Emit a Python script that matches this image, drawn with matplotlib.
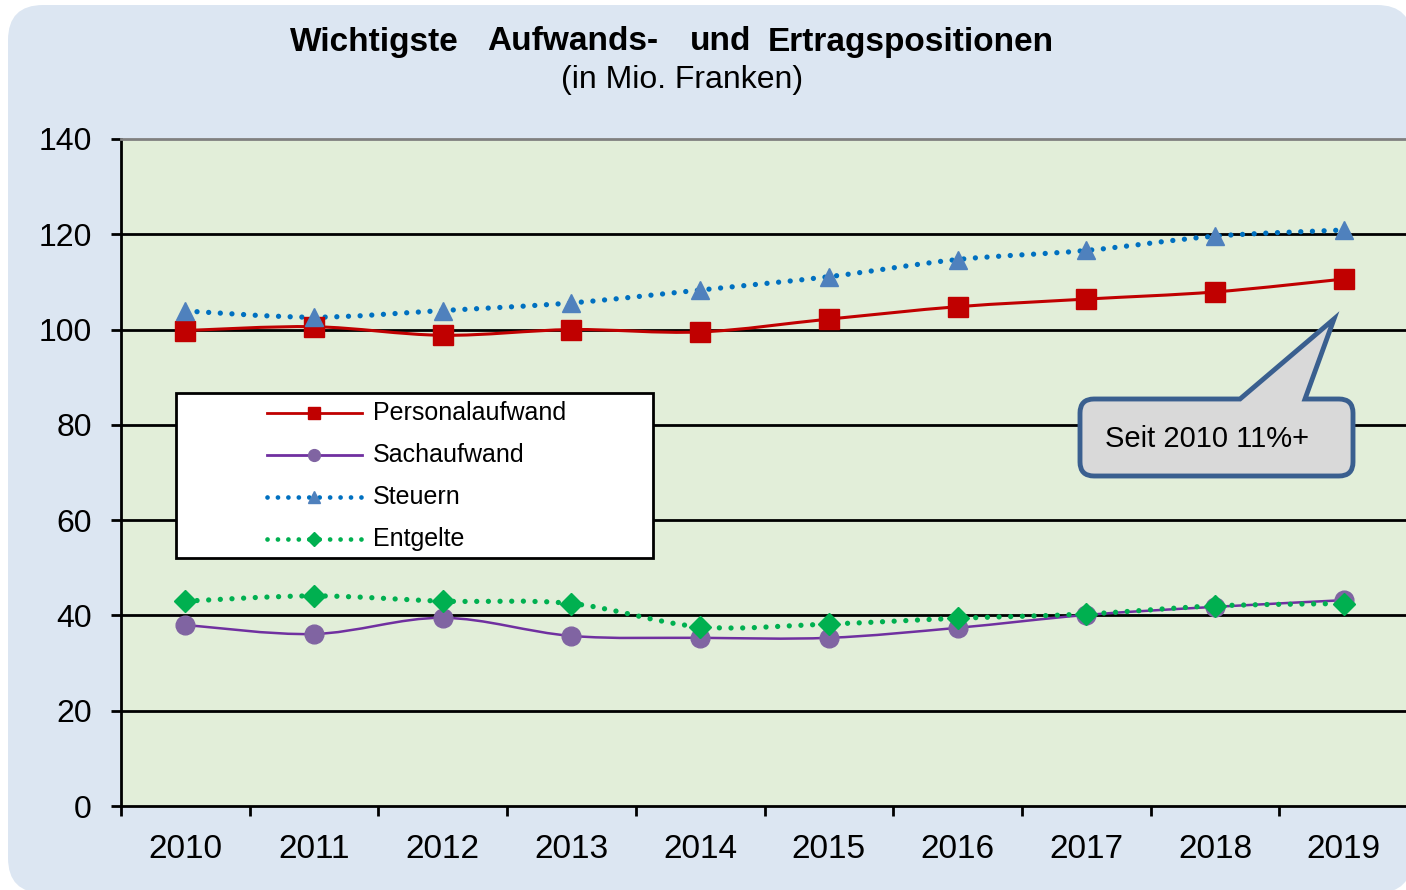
"""
Wichtigste Aufwands- und Ertragspositionen 2010-2019 (in Mio. Franken)
Line chart with callout, Excel-like styling
"""
import numpy as np
import matplotlib
matplotlib.use('Agg')
import matplotlib.pyplot as plt
from matplotlib.patches import FancyBboxPatch, PathPatch, Rectangle
from matplotlib.lines import Line2D
from matplotlib.path import Path

plt.rcParams['font.family'] = ['Liberation Sans', 'DejaVu Sans']

# --- data -----------------------------------------------------------------
years = ['2010', '2011', '2012', '2013', '2014', '2015', '2016', '2017', '2018', '2019']
personal = [99.8, 100.6, 98.8, 100.0, 99.5, 102.2, 104.8, 106.4, 107.9, 110.6]
sach = [38.0, 36.1, 39.5, 35.7, 35.3, 35.3, 37.4, 40.1, 41.8, 43.2]
steuern = [103.9, 102.6, 104.0, 105.6, 108.3, 111.1, 114.7, 116.6, 119.6, 120.9]
entgelte = [43.0, 44.1, 43.0, 42.5, 37.6, 38.2, 39.4, 40.3, 42.0, 42.5]
title_words = ['Wichtigste', 'Aufwands-', 'und', 'Ertragspositionen']
callout_text = 'Seit 2010 11%+'

W, H = 1406, 890
fig = plt.figure(figsize=(W / 100, H / 100), dpi=100)
fig.patch.set_facecolor('white')


def fx(x):
    return x / W


def fy(y):
    return 1 - y / H


# outer rounded panel
panel = FancyBboxPatch((fx(8), fy(893)), fx(1412 - 8), (893 - 5) / H,
                       boxstyle='round,pad=0,rounding_size=0.025',
                       transform=fig.transFigure, facecolor='#DCE6F2',
                       edgecolor='none', mutation_aspect=W / H, zorder=-5)
fig.patches.append(panel)

# title words placed individually (the original is widely letter-spaced)
for word, xpos in zip(title_words, [290, 487, 690, 768]):
    fig.text(fx(xpos), fy(42), word, ha='left', va='center', fontsize=24,
             fontweight='bold')
fig.text(fx(682), fy(80), '(in Mio. Franken)', ha='center', va='center', fontsize=23)

ax = fig.add_axes([fx(121), fy(806), fx(1408 - 121), (806 - 139) / H])
ax.set_facecolor('#E2EED9')
x = np.arange(len(years))


def smooth(xs, ys):
    # Excel-style smoothed line: Catmull-Rom segments as cubic Bezier curves
    xs = np.asarray(xs, float)
    ys = np.asarray(ys, float)
    n = len(xs)
    verts = [(xs[0], ys[0])]
    codes = [Path.MOVETO]
    for i in range(n - 1):
        p0 = i - 1 if i > 0 else i
        p3 = i + 2 if i + 2 < n else i + 1
        c1 = (xs[i] + (xs[i + 1] - xs[p0]) / 6, ys[i] + (ys[i + 1] - ys[p0]) / 6)
        c2 = (xs[i + 1] - (xs[p3] - xs[i]) / 6, ys[i + 1] - (ys[p3] - ys[i]) / 6)
        verts += [c1, c2, (xs[i + 1], ys[i + 1])]
        codes += [Path.CURVE4] * 3
    return Path(verts, codes)


dots = (0, (0.01, 2.2))
series = [
    (personal, 'Personalaufwand', '#C00000', '#C00000', 's', 14, '-', 2.2),
    (sach, 'Sachaufwand', '#7030A0', '#8064A2', 'o', 13.5, '-', 1.8),
    (steuern, 'Steuern', '#0070C0', '#4F81BD', '^', 13, dots, 3.8),
    (entgelte, 'Entgelte', '#00B050', '#00B050', 'D', 11, dots, 3.8),
]
for vals, label, lc, mc, mk, ms, ls, lw in series:
    ax.add_patch(PathPatch(smooth(x, vals), facecolor='none', edgecolor=lc,
                           linestyle=ls, linewidth=lw, capstyle='round', zorder=3))
    ax.plot(x, vals, linestyle='none', marker=mk, markersize=ms,
            markerfacecolor=mc, markeredgecolor=mc, zorder=4)

ax.set_xlim(-0.5, len(years) - 0.5)
ax.set_ylim(0, 140)
ax.set_yticks(np.arange(0, 141, 20))
ax.set_xticks(x)
ax.set_xticklabels(years)
ax.set_xticks(np.arange(-0.5, len(years), 1), minor=True)
ax.tick_params(axis='x', which='major', length=0, labelsize=24, pad=20)
ax.tick_params(axis='x', which='minor', length=7, width=2, direction='out', color='black')
ax.tick_params(axis='y', length=7, width=2, direction='out', labelsize=23, pad=14)
for yv in range(20, 140, 20):
    ax.axhline(yv, color='black', linewidth=2, zorder=1)
ax.spines['top'].set_color('#808080')
ax.spines['top'].set_linewidth(2)
ax.spines['right'].set_visible(False)
ax.spines['left'].set_linewidth(2)
ax.spines['bottom'].set_linewidth(2)

# legend box drawn by hand to keep the wide left margin of the original
fig.patches.append(Rectangle((fx(176), fy(558)), fx(653 - 176), (558 - 393) / H,
                             transform=fig.transFigure, facecolor='white',
                             edgecolor='black', linewidth=2, zorder=6))
for i, (vals, label, lc, mc, mk, ms, ls, lw) in enumerate(series):
    yrow = fy(413 + 42 * i)
    fig.lines.append(Line2D([fx(267), fx(362)], [yrow, yrow], transform=fig.transFigure,
                            color=lc, linestyle=ls, linewidth=2.0 if ls == '-' else 3.4,
                            dash_capstyle='round', zorder=7))
    fig.lines.append(Line2D([fx(314)], [yrow], transform=fig.transFigure, marker=mk,
                            markersize=8.5 if mk != 'D' else 7, markerfacecolor=mc,
                            markeredgecolor=mc, linestyle='none', zorder=8))
    fig.text(fx(373), yrow, label, ha='left', va='center', fontsize=18, zorder=8)

# callout bubble with pointer (figure pixel layout)
x0, x1, y0, y1, r = 1080, 1353, 399, 476, 14
bx0, bx1, apx, apy = 1240, 1305, 1334, 319
pts = [
    ((x0 + r, y0), Path.MOVETO), ((bx0, y0), Path.LINETO), ((apx, apy), Path.LINETO),
    ((bx1, y0), Path.LINETO), ((x1 - r, y0), Path.LINETO),
    ((x1, y0), Path.CURVE3), ((x1, y0 + r), Path.CURVE3),
    ((x1, y1 - r), Path.LINETO),
    ((x1, y1), Path.CURVE3), ((x1 - r, y1), Path.CURVE3),
    ((x0 + r, y1), Path.LINETO),
    ((x0, y1), Path.CURVE3), ((x0, y1 - r), Path.CURVE3),
    ((x0, y0 + r), Path.LINETO),
    ((x0, y0), Path.CURVE3), ((x0 + r, y0), Path.CURVE3),
    ((x0 + r, y0), Path.CLOSEPOLY),
]
bubble = Path([(fx(p[0]), fy(p[1])) for p, _ in pts], [c for _, c in pts])
fig.patches.append(PathPatch(bubble, transform=fig.transFigure, facecolor='#D9D9D9',
                             edgecolor='#3A5F8F', linewidth=3.5, zorder=10))
fig.text(fx(1207), fy(439), callout_text, ha='center', va='center', fontsize=21, zorder=11)

fig.savefig('out.png', dpi=100, facecolor='white')
